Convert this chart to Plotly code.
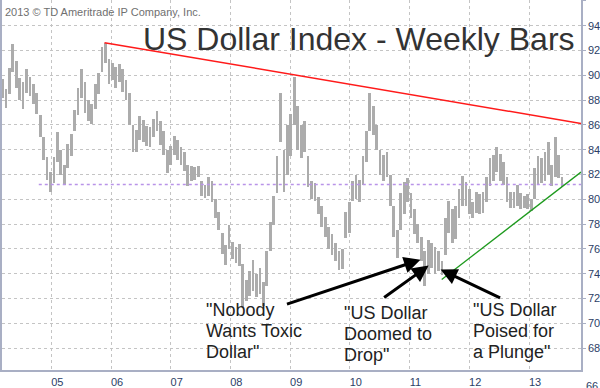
import pandas as pd
import plotly.graph_objects as go

# ---------------- data ----------------
start_date = "2004-03-08"   # first bar; one bar per 3 weeks
bar_low = [
    88.2, 87.4, 88.5, 90.3, 89.0, 88.0, 87.3, 88.6, 88.3, 87.7,
    86.9, 85.0, 83.2, 81.6, 80.6, 81.3, 83.0, 82.0, 81.2, 82.5,
    83.5, 85.5, 86.8, 88.2, 87.0, 86.3, 86.1, 87.3, 88.5, 90.3,
    91.0, 89.3, 89.6, 89.0, 89.5, 88.7, 88.0, 86.0, 83.8, 83.8,
    84.8, 84.6, 84.3, 84.2, 85.0, 85.5, 84.4, 83.6, 82.1, 82.8,
    83.6, 83.2, 82.8, 82.3, 81.1, 81.5, 81.6, 81.8, 80.3, 80.1,
    80.3, 79.8, 78.5, 77.5, 75.6, 74.7, 76.0, 75.2, 74.9, 74.6,
    71.3, 71.8, 72.2, 72.6, 72.1, 72.4, 71.4, 73.0, 75.8, 77.9,
    80.5, 84.6, 80.6, 82.0, 83.5, 86.0, 84.0, 83.3, 83.8, 81.0,
    80.0, 79.9, 78.8, 77.8, 77.0, 76.0, 75.5, 75.0, 74.3, 74.4,
    76.9, 77.3, 79.9, 80.0, 79.8, 81.2, 83.0, 85.5, 85.2, 84.0,
    82.0, 81.5, 81.8, 79.5, 77.0, 75.3, 77.5, 78.8, 79.8, 78.5,
    77.2, 76.5, 75.0, 73.0, 74.0, 74.5, 74.0, 74.2, 73.9, 75.5,
    77.3, 76.5, 76.8, 78.5, 79.5, 79.5, 78.8, 78.5, 78.9, 78.8,
    78.9, 79.8, 81.1, 81.5, 82.2, 81.5, 81.2, 79.8, 79.3, 79.3,
    79.5, 79.2, 79.3, 79.2, 79.1, 80.0, 81.2, 81.3, 81.5, 82.0,
    81.1, 81.8, 81.7, 81.0,
]
bar_high = [
    89.7, 88.9, 90.6, 92.5, 91.2, 89.8, 89.5, 90.5, 89.9, 89.3,
    88.6, 86.8, 85.0, 83.4, 82.2, 83.4, 85.4, 84.0, 82.8, 84.5,
    85.3, 87.2, 89.0, 90.5, 89.5, 88.0, 87.7, 89.3, 90.2, 92.3,
    92.6, 91.3, 91.0, 90.7, 90.9, 90.5, 89.6, 88.6, 86.0, 85.6,
    86.7, 86.4, 85.9, 85.8, 86.5, 87.1, 86.3, 85.5, 84.0, 84.3,
    85.1, 84.8, 84.2, 83.8, 82.8, 82.7, 82.6, 82.7, 81.5, 81.2,
    81.8, 81.5, 80.0, 79.0, 77.3, 76.3, 77.9, 76.6, 76.2, 76.4,
    74.8, 73.5, 74.2, 75.1, 74.0, 74.5, 73.3, 75.8, 78.2, 80.3,
    83.5, 88.6, 84.0, 86.0, 86.9, 89.9, 87.5, 86.0, 86.3, 83.5,
    81.5, 81.3, 80.2, 79.5, 78.6, 77.8, 77.2, 76.5, 75.8, 76.0,
    79.0, 79.8, 81.5, 82.0, 81.6, 83.5, 85.5, 88.6, 87.5, 86.0,
    84.0, 83.6, 83.8, 82.0, 79.5, 77.5, 80.5, 81.4, 81.7, 80.5,
    79.2, 78.0, 77.0, 75.8, 76.7, 76.5, 76.2, 75.8, 75.0, 78.5,
    79.9, 79.2, 79.5, 80.8, 81.9, 81.4, 80.8, 79.8, 80.6, 80.4,
    80.6, 81.8, 83.3, 83.6, 84.2, 83.7, 83.0, 81.8, 80.6, 80.6,
    81.2, 80.5, 80.3, 80.4, 80.0, 82.5, 83.5, 83.3, 83.8, 84.6,
    82.8, 85.0, 83.6, 81.8,
]
bar_dates = pd.date_range(start_date, periods=len(bar_high), freq="21D")

# trend lines (start / end points)
red_x = ["2005-11-22", "2013-11-15"]
red_y = [92.64, 86.12]
green_x = ["2011-07-17", "2013-11-15"]
green_y = [73.54, 82.2]
support_x = ["2004-10-16", "2013-11-15"]
support_y = [81.2, 81.2]

year_ticks = [f"{y}-01-01" for y in range(2005, 2014)]
year_labels = ["05", "06", "07", "08", "09", "10", "11", "12", "13"]

x_range = ["2004-03-05", "2013-11-15"]
y_range = [66.24, 96.08]

# arrows: tip (date, value) and tail offset in px
arrow_tips = [("2011-03-09", 75.14), ("2011-04-28", 74.66), ("2011-07-10", 74.34)]
arrow_offsets = [(-135, 45), (-46, 33), (61, 29)]

# ---------------- figure ----------------
FONT = "Liberation Sans, Arial, sans-serif"
W, H = 600, 388
ML, MR, MT, MB = 1, 18, 0, 15
PW, PH = W - ML - MR, H - MT - MB


def xp(px):
    return (px - ML) / PW


def yp(py):
    return (MT + PH - py) / PH


fig = go.Figure()

fig.add_trace(go.Bar(
    x=bar_dates,
    y=[h - l for h, l in zip(bar_high, bar_low)],
    base=bar_low,
    width=21 * 86400000 * 0.8,
    marker=dict(color="#acacac", line=dict(width=0)),
    hoverinfo="skip",
    showlegend=False,
))

fig.add_trace(go.Scatter(x=support_x, y=support_y, mode="lines",
                         line=dict(color="#b994e8", width=1.5, dash="3px,3px"),
                         showlegend=False, hoverinfo="skip"))
fig.add_trace(go.Scatter(x=red_x, y=red_y, mode="lines",
                         line=dict(color="#ff1a1a", width=1.5),
                         showlegend=False, hoverinfo="skip"))
fig.add_trace(go.Scatter(x=green_x, y=green_y, mode="lines",
                         line=dict(color="#1e9a1e", width=1.3),
                         showlegend=False, hoverinfo="skip"))

annotations = []
# copyright
annotations.append(dict(text="2013 © TD Ameritrade IP Company, Inc.", xref="paper", yref="paper",
                        x=xp(2), y=yp(12), xanchor="left", yanchor="middle", showarrow=False,
                        font=dict(family=FONT, size=11, color="#707070")))
# title
annotations.append(dict(text="US Dollar Index - Weekly Bars", xref="paper", yref="paper",
                        x=xp(140), y=yp(39), xanchor="left", yanchor="middle", showarrow=False,
                        font=dict(family=FONT, size=32, color="#333333")))

text_blocks = [
    (204, 313, ['"Nobody', 'Wants Toxic', 'Dollar"']),
    (342, 316, ['"US Dollar', 'Doomed to', 'Drop"']),
    (472, 313, ['"US Dollar', 'Poised for', 'a Plunge"']),
]
for bx, by, lines in text_blocks:
    for k, t in enumerate(lines):
        annotations.append(dict(text=t, xref="paper", yref="paper",
                                x=xp(bx), y=yp(by + 21 * k), xanchor="left", yanchor="middle",
                                showarrow=False,
                                font=dict(family=FONT, size=18, color="#222222")))

for (tx, ty), (ax, ay) in zip(arrow_tips, arrow_offsets):
    annotations.append(dict(text="", x=tx, y=ty, xref="x", yref="y", ax=ax, ay=ay,
                            showarrow=True, arrowhead=2, arrowsize=1.1, arrowwidth=3,
                            arrowcolor="#000000", standoff=0))

# partially visible "66" label (cut by the bottom edge, as in the reference)
annotations.append(dict(text="66", xref="paper", yref="paper", x=1, y=0, xanchor="left",
                        yanchor="top", xshift=3, yshift=-8, showarrow=False,
                        font=dict(family=FONT, size=11, color="#2c3e66")))

fig.update_layout(
    width=W, height=H,
    margin=dict(l=ML, r=MR, t=MT, b=MB, pad=0),
    paper_bgcolor="white", plot_bgcolor="white",
    bargap=0,
    annotations=annotations,
    showlegend=False,
    xaxis=dict(type="date", range=x_range, tickvals=year_ticks, ticktext=year_labels,
               showgrid=True, gridcolor="#c4c4c4", griddash="dot", gridwidth=1,
               showline=True, linecolor="#a9afc4", linewidth=1.5, ticks="",
               tickfont=dict(family=FONT, size=11, color="#2c3e66"),
               ticklabelshift=6, ticklabelstandoff=1, zeroline=False),
    yaxis=dict(side="right", range=y_range, dtick=2, tick0=0,
               showgrid=True, gridcolor="#c4c4c4", griddash="dot", gridwidth=1,
               showline=True, linecolor="#a9afc4", linewidth=1.5, mirror=True,
               ticks="outside", ticklen=3, tickcolor="#a9afc4",
               tickfont=dict(family=FONT, size=11, color="#2c3e66"), zeroline=False),
)

fig.write_html("out.html")
